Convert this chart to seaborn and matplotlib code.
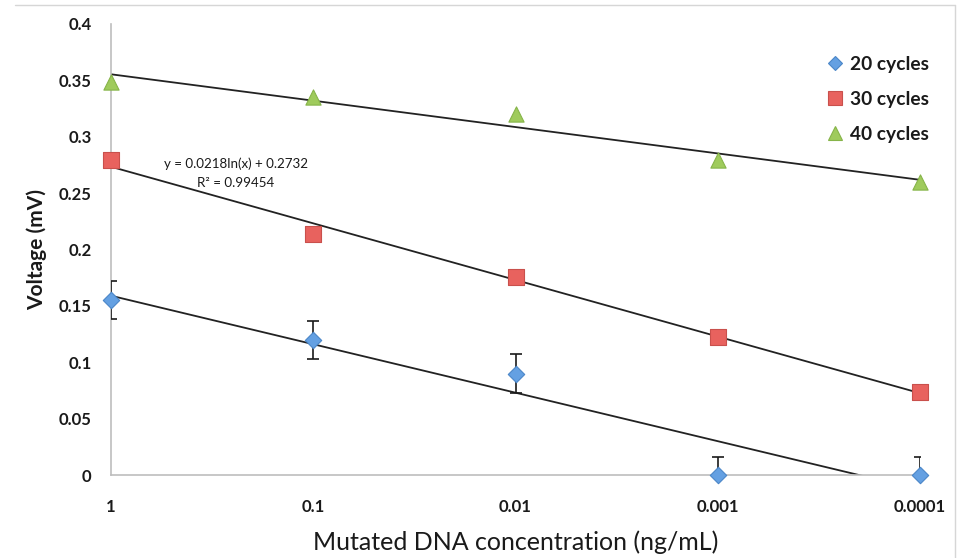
import numpy as np
import pandas as pd
import matplotlib
matplotlib.use("Agg")
import matplotlib.pyplot as plt
from matplotlib.lines import Line2D
from matplotlib.ticker import NullLocator
import seaborn as sns

# ---- data ----
concentration = [1, 0.1, 0.01, 0.001, 0.0001]
tick_labels = ["1", "0.1", "0.01", "0.001", "0.0001"]
series_names = ["20 cycles", "30 cycles", "40 cycles"]
v20 = [0.155, 0.120, 0.090, 0.000, 0.000]
err20 = [0.017, 0.017, 0.017, 0.016, 0.016]
v30 = [0.279, 0.214, 0.176, 0.122, 0.074]
v40 = [0.349, 0.335, 0.320, 0.279, 0.260]
y_ticks = [0, 0.05, 0.1, 0.15, 0.2, 0.25, 0.3, 0.35, 0.4]
y_tick_labels = ["0", "0.05", "0.1", "0.15", "0.2", "0.25", "0.3", "0.35", "0.4"]
equation_text = "y = 0.0218ln(x) + 0.2732"
r2_text = "R\u00b2 = 0.99454"

values = {"20 cycles": v20, "30 cycles": v30, "40 cycles": v40}
rows = []
for name in series_names:
    for c, v in zip(concentration, values[name]):
        rows.append({"series": name, "conc": c, "voltage": v})
df = pd.DataFrame(rows)

colors = {"20 cycles": "#64a0e2", "30 cycles": "#e8625e", "40 cycles": "#9fcb5c"}
edges = {"20 cycles": "#4a86c8", "30 cycles": "#c9504c", "40 cycles": "#86b449"}
markers = {"20 cycles": "D", "30 cycles": "s", "40 cycles": "^"}
sizes = {"20 cycles": 70, "30 cycles": 125, "40 cycles": 120}

sns.set_theme(style="white")
plt.rcParams["font.family"] = ["Lato", "DejaVu Sans"]

fig = plt.figure(figsize=(9.65, 5.58), dpi=100)
ax = fig.add_axes([111 / 965, 1 - 475 / 558, (920 - 111) / 965, (475 - 24) / 558])

ax.set_xscale("log")

# trend lines: least-squares fit of voltage on ln(conc)
xfit = np.logspace(0, -4, 200)
for name in series_names:
    sub = df[df.series == name]
    a, b = np.polyfit(np.log(sub.conc), sub.voltage, 1)
    fit_df = pd.DataFrame({"conc": xfit, "voltage": a * np.log(xfit) + b})
    sns.lineplot(data=fit_df, x="conc", y="voltage", ax=ax, color="#222222",
                 linewidth=1.3, zorder=2, legend=False)

# error bars for 20 cycles
ax.errorbar(concentration, v20, yerr=err20, fmt="none", ecolor="#1a1a1a",
            elinewidth=1.2, capsize=4, capthick=1.2, zorder=3)

# markers
for name in series_names:
    sub = df[df.series == name]
    sns.scatterplot(data=sub, x="conc", y="voltage", ax=ax, marker=markers[name],
                    s=sizes[name], color=colors[name], edgecolor=edges[name],
                    linewidth=0.8, clip_on=False, zorder=5, label=name, legend=False)

ax.set_xlim(1, 0.0001)
ax.set_ylim(0, 0.4)
ax.set_xticks(concentration)
ax.set_xticklabels(tick_labels)
ax.xaxis.set_minor_locator(NullLocator())
ax.set_yticks(y_ticks)
ax.set_yticklabels(y_tick_labels)

for s in ["top", "right"]:
    ax.spines[s].set_visible(False)
for s in ["left", "bottom"]:
    ax.spines[s].set_color("#bdbdbd")
    ax.spines[s].set_linewidth(1.2)

ax.tick_params(axis="both", which="major", direction="out", length=5, width=1,
               color="#bdbdbd", labelsize=12, labelcolor="#1a1a1a")
ax.tick_params(axis="y", pad=9)
ax.tick_params(axis="x", pad=12)
for lab in ax.get_xticklabels() + ax.get_yticklabels():
    lab.set_fontweight("bold")

ax.set_xlabel("Mutated DNA concentration (ng/mL)", fontsize=18, color="#1a1a1a")
ax.set_ylabel("Voltage (mV)", fontsize=15, fontweight="bold", color="#1a1a1a")
ax.xaxis.set_label_coords(0.5, -0.122)
ax.yaxis.set_label_coords(-0.079, 0.5)

ax.text(236 / 965, 1 - 164 / 558, equation_text, transform=fig.transFigure,
        ha="center", va="center", fontsize=9.6, color="#1a1a1a")
ax.text(236 / 965, 1 - 183 / 558, r2_text, transform=fig.transFigure,
        ha="center", va="center", fontsize=9.6, color="#1a1a1a")

handles = [Line2D([], [], linestyle="none", marker=markers[n], markersize=9.5 if n != "20 cycles" else 7.5,
                  markerfacecolor=colors[n], markeredgecolor=edges[n], markeredgewidth=0.8)
           for n in series_names]
leg = ax.legend(handles, series_names, loc="upper left",
                bbox_to_anchor=(818 / 965, 1 - 46 / 558), bbox_transform=fig.transFigure,
                frameon=False, handlelength=0.8, handletextpad=0.35, labelspacing=0.95,
                borderpad=0, prop={"size": 13.8, "weight": "bold"})
for t in leg.get_texts():
    t.set_color("#1a1a1a")

# outer chart border
fig.add_artist(Line2D([15 / 965, 955 / 965], [1 - 5 / 558, 1 - 5 / 558],
                      transform=fig.transFigure, color="#d6d6d6", linewidth=1))
fig.add_artist(Line2D([955 / 965, 955 / 965], [1 - 5 / 558, 0],
                      transform=fig.transFigure, color="#d6d6d6", linewidth=1))

fig.savefig("out.png", dpi=100)
